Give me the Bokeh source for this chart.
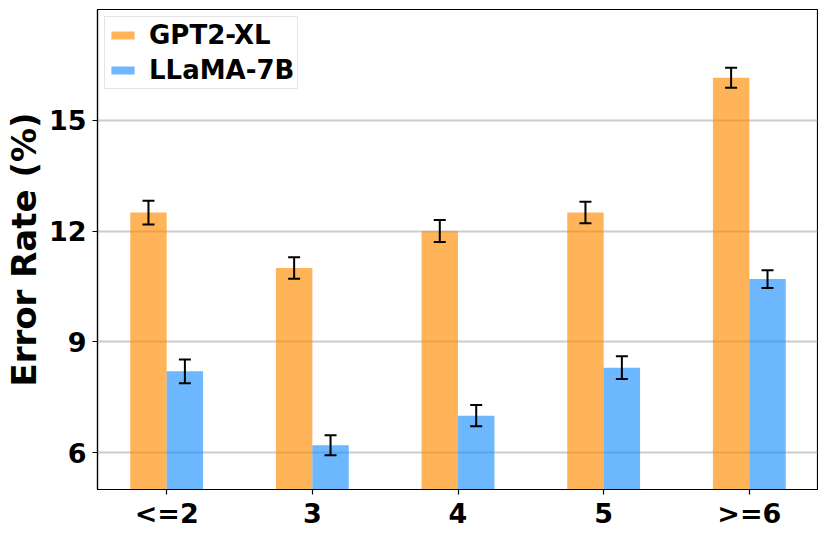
from bokeh.plotting import figure
from bokeh.models import (ColumnDataSource, FactorRange, Range1d, Legend, LegendItem,
                          Whisker, TeeHead, FixedTicker)
from bokeh.transform import dodge
from bokeh.embed import file_html
from bokeh.resources import INLINE

categories = ["<=2", "3", "4", "5", ">=6"]
gpt2 = [12.5, 11.0, 12.0, 12.5, 16.15]
llama = [8.2, 6.2, 7.0, 8.3, 10.7]
gpt2_err = [0.32, 0.29, 0.30, 0.29, 0.27]
llama_err = [0.32, 0.27, 0.29, 0.31, 0.24]
y_ticks = [6, 9, 12, 15]

src = ColumnDataSource(dict(
    cat=categories,
    gpt2=gpt2,
    llama=llama,
    g_up=[v + e for v, e in zip(gpt2, gpt2_err)],
    g_lo=[v - e for v, e in zip(gpt2, gpt2_err)],
    l_up=[v + e for v, e in zip(llama, llama_err)],
    l_lo=[v - e for v, e in zip(llama, llama_err)],
))

FONT = "DejaVu Sans"

p = figure(width=818, height=531, output_backend="svg", toolbar_location=None,
           x_range=FactorRange(factors=categories, range_padding=-0.01),
           y_range=Range1d(5, 18),
           min_border_left=93, min_border_right=0, min_border_top=9, min_border_bottom=30)

r1 = p.vbar(x=dodge("cat", -0.125, range=p.x_range), top="gpt2", bottom=0, width=0.25,
            source=src, fill_color="#FF8C00", fill_alpha=0.65, line_color=None)
r2 = p.vbar(x=dodge("cat", 0.125, range=p.x_range), top="llama", bottom=0, width=0.25,
            source=src, fill_color="#1E90FF", fill_alpha=0.65, line_color=None)

for off, up, lo in [(-0.125, "g_up", "g_lo"), (0.125, "l_up", "l_lo")]:
    w = Whisker(source=src, base=dodge("cat", off, range=p.x_range), upper=up, lower=lo,
                line_color="black", line_width=2, level="annotation",
                upper_head=TeeHead(size=12, line_width=2, line_color="black"),
                lower_head=TeeHead(size=12, line_width=2, line_color="black"))
    p.add_layout(w)

legend = Legend(items=[LegendItem(label="GPT2-XL", renderers=[r1]),
                       LegendItem(label="LLaMA-7B", renderers=[r2])],
                location="top_left", margin=7, padding=3, spacing=5,
                glyph_width=29, glyph_height=10, label_standoff=12,
                label_text_font=FONT, label_text_font_size="26px",
                label_text_font_style="bold", label_text_color="black", label_height=26,
                border_line_color="#cccccc", border_line_width=1,
                background_fill_alpha=0.8)
p.add_layout(legend)

p.xgrid.grid_line_color = None
p.ygrid.ticker = FixedTicker(ticks=y_ticks)
p.ygrid.grid_line_color = "gray"
p.ygrid.grid_line_alpha = 0.4
p.ygrid.grid_line_width = 2

p.yaxis.ticker = FixedTicker(ticks=y_ticks)
p.yaxis.axis_label = "Error Rate (%)"
p.yaxis.axis_label_text_font = FONT
p.yaxis.axis_label_text_font_size = "34px"
p.yaxis.axis_label_text_font_style = "bold"
p.yaxis.axis_label_text_color = "black"
p.yaxis.axis_label_standoff = 2
p.xaxis.axis_label_standoff = 0

for ax in (p.xaxis, p.yaxis):
    ax.major_label_text_font = FONT
    ax.major_label_text_font_size = "27px"
    ax.major_label_text_font_style = "bold"
    ax.major_label_text_color = "black"
    ax.axis_line_color = "black"
    ax.axis_line_width = 1.2
    ax.major_tick_line_color = "black"
    ax.major_tick_line_width = 1.2
    ax.major_tick_out = 5
    ax.major_tick_in = 0
    ax.minor_tick_line_color = None

p.yaxis.major_label_standoff = 6
p.xaxis.major_label_standoff = 3
p.outline_line_color = "black"
p.outline_line_width = 1.2
p.outline_line_alpha = 1.0

open("out.html", "w").write(file_html(p, INLINE))
